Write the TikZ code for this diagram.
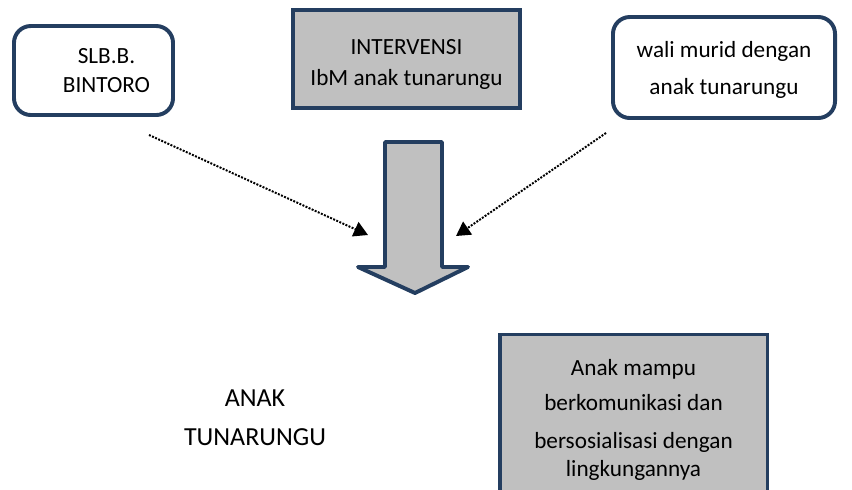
\documentclass[tikz,border=0pt]{standalone}
\usepackage{fontspec}
\setmainfont{Carlito}
\usetikzlibrary{shapes,arrows.meta,positioning,calc}
\definecolor{biruTua}{RGB}{36,62,96}
\definecolor{abu}{RGB}{192,192,192}

\begin{document}
\begin{tikzpicture}[x=0.025cm, y=-0.025cm,
  bulat/.style={draw=biruTua, line width=2.8pt, rounded corners=12pt, fill=white, align=center, font=\fontsize{16.5}{20}\selectfont},
  kotak/.style={draw=biruTua, line width=2.2pt, fill=abu, align=center, font=\fontsize{16.5}{20}\selectfont},
  garis/.style={densely dotted, line width=1.4pt, -{Triangle[length=10pt,width=11pt]}}]
\useasboundingbox (0,0) rectangle (852,489);
\clip (0,0) rectangle (852,489);

% kotak SLB
\node[bulat, minimum width=3.975cm, minimum height=2.225cm] (slb) at (93.5,70.5) {\hspace*{0.65cm}SLB.B.\\[1pt] \hspace*{0.65cm}BINTORO};

% kotak intervensi
\node[kotak, minimum width=5.675cm, minimum height=2.45cm] (intervensi) at (406.5,59) {\rule{0pt}{19pt}INTERVENSI\\[2pt] IbM anak tunarungu};

% kotak wali murid
\node[bulat, minimum width=5.55cm, minimum height=2.525cm] (wali) at (724,67.5) {\rule{0pt}{15pt}wali murid dengan\\[6pt] anak tunarungu};

% panah besar
\draw[biruTua, fill=abu, line width=2.8pt, line join=round] (385,142) -- (442,142) -- (442,267) -- (468,267) -- (415,293) -- (358,267) -- (385,267) -- cycle;

% anak tunarungu
\node[font=\fontsize{18.5}{22}\selectfont, align=center] (anak) at (255,418) {ANAK\\[5.5pt] TUNARUNGU};

% hasil
\node[kotak, minimum width=6.675cm, minimum height=4.05cm, anchor=north] (hasil) at (633.5,333) {\rule{0pt}{18pt}Anak mampu\\[5pt] berkomunikasi dan\\[7pt] bersosialisasi dengan\\ lingkungannya};

% garis titik-titik
\coordinate (awalKiri) at ($(slb.south east)+(-26,18)$);
\coordinate (ujungKiri) at (368,235);
\coordinate (awalKanan) at ($(wali.south west)+(-5,13)$);
\coordinate (ujungKanan) at (456,236);
\draw[garis] (awalKiri) -- (ujungKiri);
\draw[garis] (awalKanan) -- (ujungKanan);
\end{tikzpicture}
\end{document}
